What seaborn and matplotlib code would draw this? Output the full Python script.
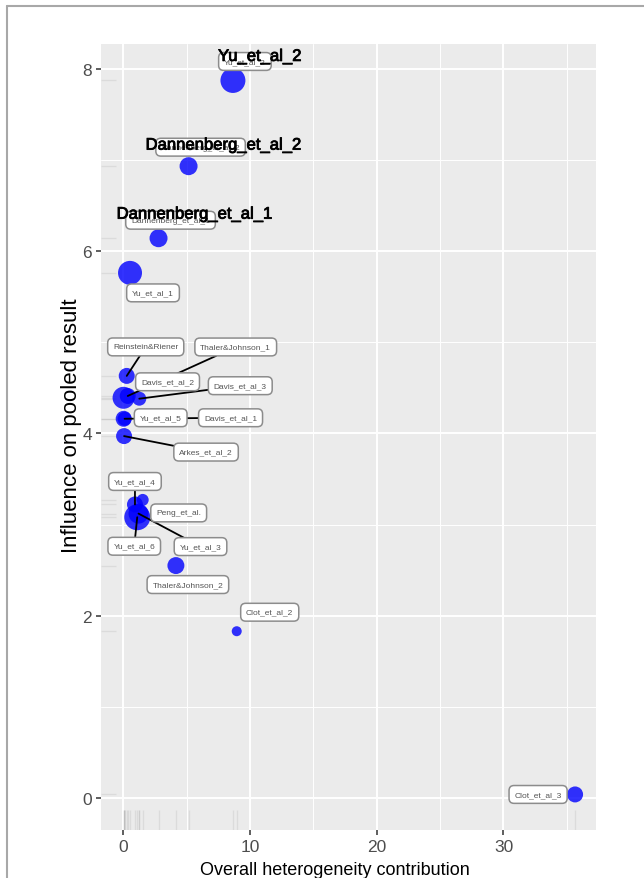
import matplotlib
matplotlib.use("Agg")
import matplotlib.pyplot as plt
import matplotlib.patheffects as pe
from matplotlib.lines import Line2D
from matplotlib.ticker import MultipleLocator
import pandas as pd
import seaborn as sns

# Baujat plot: each study's contribution to heterogeneity vs. influence on the pooled result
studies = ["Yu_et_al_2", "Dannenberg_et_al_2", "Dannenberg_et_al_1", "Yu_et_al_1",
           "Reinstein&Riener", "Davis_et_al_2", "Thaler&Johnson_1", "Davis_et_al_3",
           "Yu_et_al_5", "Davis_et_al_1", "Arkes_et_al_2", "Peng_et_al.", "Yu_et_al_4",
           "Yu_et_al_6", "Yu_et_al_3", "Thaler&Johnson_2", "Clot_et_al_2", "Clot_et_al_3"]
heterogeneity = [8.65, 5.15, 2.78, 0.53, 0.27, 0.02, 0.35, 1.26, 0.03, 0.10,
                 0.06, 1.53, 0.92, 1.10, 1.20, 4.15, 8.95, 35.65]
influence = [7.87, 6.93, 6.14, 5.76, 4.63, 4.39, 4.41, 4.38, 4.16, 4.16,
             3.97, 3.27, 3.22, 3.08, 3.12, 2.55, 1.83, 0.04]
weight = [15.6, 8.1, 8.1, 14.4, 6.4, 12.1, 6.4, 4.9, 6.4, 4.9,
          6.4, 3.6, 6.4, 16.9, 10.0, 7.2, 2.5, 6.4]
highlighted = ["Yu_et_al_2", "Dannenberg_et_al_2", "Dannenberg_et_al_1"]

df = pd.DataFrame({"study": studies, "het": heterogeneity,
                   "infl": influence, "weight": weight})

# label placement: box offset from its point (pixels) and whether a leader segment is drawn
label_layout = {
    "Yu_et_al_2": (12, 19, False),
    "Dannenberg_et_al_2": (12, 19, False),
    "Dannenberg_et_al_1": (12, 18, False),
    "Yu_et_al_1": (23, -20, False),
    "Reinstein&Riener": (19, 29, True),
    "Davis_et_al_2": (44, 16, False),
    "Thaler&Johnson_1": (108, 49, True),
    "Davis_et_al_3": (101, 13, True),
    "Yu_et_al_5": (37, 1, False),
    "Davis_et_al_1": (106, 1, True),
    "Arkes_et_al_2": (82, -16, True),
    "Peng_et_al.": (36, -13, False),
    "Yu_et_al_4": (0, 23, True),
    "Yu_et_al_6": (-3, -29, True),
    "Yu_et_al_3": (62, -33, True),
    "Thaler&Johnson_2": (12, -19, False),
    "Clot_et_al_2": (33, 19, False),
    "Clot_et_al_3": (-37, 0, False),
}
big_label_offset = {
    "Yu_et_al_2": (27, 24),
    "Dannenberg_et_al_2": (35, 21),
    "Dannenberg_et_al_1": (36, 24),
}

sns.set_style("darkgrid", {"axes.facecolor": "#EBEBEB", "grid.color": "white"})
plt.rcParams["font.family"] = ["Liberation Sans", "DejaVu Sans"]

W, H = 644, 879
fig = plt.figure(figsize=(W / 100, H / 100), dpi=100)
ax = fig.add_axes([101 / W, 1 - 831 / H, 495 / W, 786 / H])

w_max = 20.0
sns.scatterplot(data=df, x="het", y="infl", size="weight", sizes=(0, 2.07 * 10 * w_max),
                size_norm=(0, w_max), color="blue", alpha=0.8, linewidth=0,
                legend=False, ax=ax, zorder=3)

sns.rugplot(x=df["het"], height=0.026, color="gray", alpha=0.15, lw=1.6, ax=ax)
sns.rugplot(y=df["infl"], height=0.03, color="gray", alpha=0.15, lw=1.6, ax=ax)

box_style = "round,pad=0.65,rounding_size=0.6"
for name, xv, yv in zip(df["study"], df["het"], df["infl"]):
    dx, dy, seg = label_layout[name]
    if seg:
        # leader segment sits underneath all label boxes
        ax.annotate(name, xy=(xv, yv), xytext=(dx, dy), textcoords="offset pixels",
                    ha="center", va="center", fontsize=6, color="none", zorder=4,
                    bbox=dict(boxstyle=box_style, fc="none", ec="none", lw=1.1),
                    arrowprops=dict(arrowstyle="-", color="black", lw=1.3,
                                    shrinkA=0, shrinkB=0))
    ax.annotate(name, xy=(xv, yv), xytext=(dx, dy), textcoords="offset pixels",
                ha="center", va="center", fontsize=6, color="#555555", zorder=5,
                bbox=dict(boxstyle=box_style, fc="white", ec="#8C8C8C", lw=1.1))
    if name in highlighted:
        bx, by = big_label_offset[name]
        ax.annotate(name, xy=(xv, yv), xytext=(bx, by), textcoords="offset pixels",
                    ha="center", va="center", fontsize=12, color="black", zorder=6,
                    path_effects=[pe.withStroke(linewidth=0.6, foreground="black")])

ax.set_xlim(-1.76, 37.3)
ax.set_ylim(-0.35, 8.27)
ax.xaxis.set_major_locator(MultipleLocator(10))
ax.xaxis.set_minor_locator(MultipleLocator(5))
ax.yaxis.set_major_locator(MultipleLocator(2))
ax.yaxis.set_minor_locator(MultipleLocator(1))
ax.grid(which="major", color="white", lw=1.4)
ax.grid(which="minor", color="white", lw=0.7)
for s in ax.spines.values():
    s.set_visible(False)
ax.tick_params(which="major", bottom=True, left=True, length=3.6, width=1.1,
               color="#333333", labelsize=12.5, labelcolor="#4D4D4D", pad=3)
ax.tick_params(which="minor", bottom=False, left=False)

ax.set_xlabel("Overall heterogeneity contribution", fontsize=13, color="black")
ax.set_ylabel("Influence on pooled result", fontsize=16, color="black")
ax.xaxis.set_label_coords(0.473, -0.039)
ax.yaxis.set_label_coords(-0.039, 0.516)
ax.xaxis.label.set_va("top")

# thin frame around the figure
fig.add_artist(Line2D([7 / W, 1], [1 - 7 / H, 1 - 7 / H], color="#A8A8A8", lw=1.5))
fig.add_artist(Line2D([7 / W, 7 / W], [0, 1 - 7 / H], color="#A8A8A8", lw=1.5))

fig.savefig("out.png", dpi=100)
